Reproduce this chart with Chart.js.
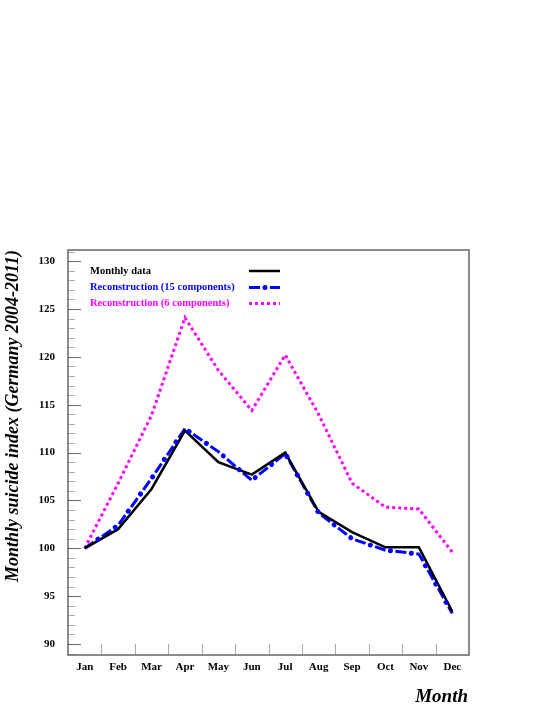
<!DOCTYPE html>
<html><head><meta charset="utf-8">
<script src="https://cdn.jsdelivr.net/npm/chart.js@4/dist/chart.umd.min.js"></script>
<style>html,body{margin:0;padding:0;background:#fff}canvas{display:block}</style>
</head><body>
<canvas id="c" width="545" height="705"></canvas>
<script>
const months = ["Jan","Feb","Mar","Apr","May","Jun","Jul","Aug","Sep","Oct","Nov","Dec"];
const monthlyData = [100.0,102.0,106.2,112.3,109.0,107.7,110.0,103.8,101.7,100.1,100.1,93.4];
const recon15 = [100.0,102.4,107.3,112.5,110.1,107.1,109.9,103.7,101.0,99.8,99.4,93.2];
const recon6 = [100.0,106.8,113.9,124.1,118.6,114.4,120.2,114.0,106.8,104.3,104.1,99.6];
const yMajorTicks = [90,95,100,105,110,115,120,125,130];
const seriesNames = ["Monthly data","Reconstruction (15 components)","Reconstruction (6 components)"];
const yTitle = "Monthly suicide index (Germany 2004-2011)";
const xTitle = "Month";

const SERIF = '"Liberation Serif", "Times New Roman", serif';
const DASH15 = [11, 5, 0.01, 5];
const DOT15 = { dash: [0.01, 21.0], offset: -16, width: 5 };

function strokeDots(ctx, pts, color) {
  ctx.save();
  ctx.strokeStyle = color;
  ctx.lineWidth = DOT15.width;
  ctx.lineCap = 'round';
  ctx.setLineDash(DOT15.dash);
  ctx.lineDashOffset = DOT15.offset;
  ctx.beginPath();
  pts.forEach((p, i) => i ? ctx.lineTo(p.x, p.y) : ctx.moveTo(p.x, p.y));
  ctx.stroke();
  ctx.restore();
}

const framePlugin = {
  id: 'frame',
  afterDatasetsDraw(chart) {
    const meta = chart.getDatasetMeta(1);
    const a = chart.chartArea, ctx = chart.ctx;
    ctx.save();
    ctx.beginPath();
    ctx.rect(a.left, a.top, a.right - a.left, a.bottom - a.top);
    ctx.clip();
    strokeDots(ctx, meta.data.map(p => ({ x: p.x, y: p.y })), chart.data.datasets[1].borderColor);
    ctx.restore();
  },
  afterDraw(chart) {
    const ctx = chart.ctx, a = chart.chartArea;
    const y = chart.scales.y, x = chart.scales.x;
    ctx.save();
    for (let v = Math.ceil(y.min); v <= Math.floor(y.max); v++) {
      const py = Math.round(y.getPixelForValue(v)) + 0.5;
      const major = v % 5 === 0;
      ctx.strokeStyle = major ? '#666' : '#aaa';
      ctx.lineWidth = 1;
      ctx.beginPath();
      ctx.moveTo(a.left, py);
      ctx.lineTo(a.left + (major ? 13 : 7), py);
      ctx.stroke();
    }
    ctx.strokeStyle = '#aaa';
    for (let i = 1; i < months.length; i++) {
      const px = Math.round(x.getPixelForValue(i - 0.5)) + 0.5;
      ctx.beginPath();
      ctx.moveTo(px, a.bottom);
      ctx.lineTo(px, a.bottom - 11);
      ctx.stroke();
    }
    ctx.strokeStyle = '#666';
    ctx.lineWidth = 1.5;
    ctx.strokeRect(a.left, a.top, a.right - a.left, a.bottom - a.top);

    // legend
    const ds = chart.data.datasets;
    const ly = [271, 287.5, 303.5];
    ctx.font = 'bold 10.5px ' + SERIF;
    ctx.textBaseline = 'middle';
    ctx.textAlign = 'left';
    ds.forEach((d, i) => {
      ctx.fillStyle = d.borderColor;
      ctx.fillText(d.label, 90, ly[i]);
      ctx.strokeStyle = d.borderColor;
      ctx.lineWidth = d.borderWidth;
      ctx.setLineDash(d.borderDash || []);
      ctx.lineDashOffset = 0;
      ctx.lineCap = d.borderCapStyle || 'butt';
      ctx.beginPath();
      ctx.moveTo(249, ly[i]);
      ctx.lineTo(280, ly[i]);
      ctx.stroke();
      if (i === 1) strokeDots(ctx, [{ x: 249, y: ly[i] }, { x: 280, y: ly[i] }], d.borderColor);
    });
    ctx.setLineDash([]);
    ctx.lineCap = 'butt';

    ctx.fillStyle = '#000';
    ctx.font = 'italic bold 19px ' + SERIF;
    ctx.textAlign = 'right';
    ctx.textBaseline = 'alphabetic';
    ctx.fillText(xTitle, 468, 702);
    ctx.save();
    ctx.translate(18, 250);
    ctx.rotate(-Math.PI / 2);
    ctx.font = 'italic bold 18px ' + SERIF;
    ctx.textAlign = 'right';
    ctx.fillText(yTitle, 0, 0);
    ctx.restore();
    ctx.restore();
  }
};

new Chart(document.getElementById('c'), {
  type: 'line',
  data: {
    labels: months,
    datasets: [
      { label: seriesNames[0], data: monthlyData, borderColor: '#000000', borderWidth: 2.5, pointRadius: 0, tension: 0, fill: false, borderJoinStyle: 'miter' },
      { label: seriesNames[1], data: recon15, borderColor: '#0000ff', borderWidth: 3, borderDash: DASH15, borderCapStyle: 'butt', pointRadius: 0, tension: 0, fill: false },
      { label: seriesNames[2], data: recon6, borderColor: '#ff00ff', borderWidth: 3, borderDash: [3, 3], pointRadius: 0, tension: 0, fill: false }
    ]
  },
  options: {
    responsive: false,
    animation: false,
    devicePixelRatio: 1,
    layout: { padding: { top: 250, right: 76, left: 0, bottom: 0 } },
    plugins: { legend: { display: false }, tooltip: { enabled: false } },
    scales: {
      x: {
        type: 'category',
        offset: true,
        grid: { display: false, drawTicks: false },
        border: { display: false },
        ticks: { color: '#000', font: { family: SERIF, weight: 'bold', size: 11 }, padding: 6, maxRotation: 0, autoSkip: false },
        afterFit(s) { s.height = 50; }
      },
      y: {
        min: 88.85, max: 131.17,
        grid: { display: false, drawTicks: false },
        border: { display: false },
        ticks: { color: '#000', font: { family: SERIF, weight: 'bold', size: 11 }, padding: 13 },
        afterBuildTicks(s) { s.ticks = yMajorTicks.map(v => ({ value: v })); },
        afterFit(s) { s.width = 68; }
      }
    }
  },
  plugins: [framePlugin]
});
</script>
</body></html>
